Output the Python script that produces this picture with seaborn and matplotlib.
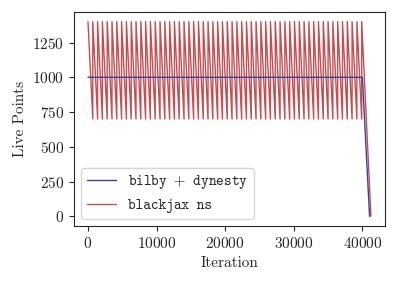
import matplotlib
matplotlib.use("Agg")
import matplotlib.pyplot as plt
import seaborn as sns
import pandas as pd
import numpy as np

sns.set_style("ticks")
plt.rcParams["font.family"] = ["cmr10", "DejaVu Serif"]
plt.rcParams["mathtext.fontset"] = "cm"
plt.rcParams["axes.formatter.use_mathtext"] = True
plt.rcParams["font.size"] = 11

# bilby + dynesty: constant live points, then a final drain
dynesty_iter = [0, 40000, 41050]
dynesty_live = [1000, 1000, 0]

# blackjax ns: 1400 live points, 700 removed per batch (sawtooth)
n_live = 1400
n_delete = 700
n_batches = 57
final_iter = 41250

bj_iter = []
bj_live = []
for b in range(n_batches):
    start = b * n_delete
    bj_iter += [start, start + n_delete]
    bj_live += [n_live, n_live - n_delete]
bj_iter += [n_batches * n_delete, final_iter]
bj_live += [n_live, 0]

df = pd.concat([
    pd.DataFrame({"Iteration": dynesty_iter, "Live Points": dynesty_live,
                  "run": "bilby $+$ dynesty"}),
    pd.DataFrame({"Iteration": bj_iter, "Live Points": bj_live,
                  "run": "blackjax ns"}),
])

fig = plt.figure(figsize=(3.97, 2.84), dpi=100)
ax = fig.add_axes([0.186, 0.204, 0.784, 0.754])
sns.lineplot(data=df, x="Iteration", y="Live Points", hue="run",
             palette=["#40409a", "#c44e52"], linewidth=1.0, sort=False,
             estimator=None, ax=ax)
# dynesty line sits on top of the sawtooth
ax.lines[0].set_zorder(3)
ax.set_xticks([0, 10000, 20000, 30000, 40000])
ax.set_yticks([0, 250, 500, 750, 1000, 1250])
ax.legend(loc="lower left", prop={"family": "cmtt10", "size": 10.5},
          fancybox=True, framealpha=0.8)
fig.savefig("out.png", dpi=100)
